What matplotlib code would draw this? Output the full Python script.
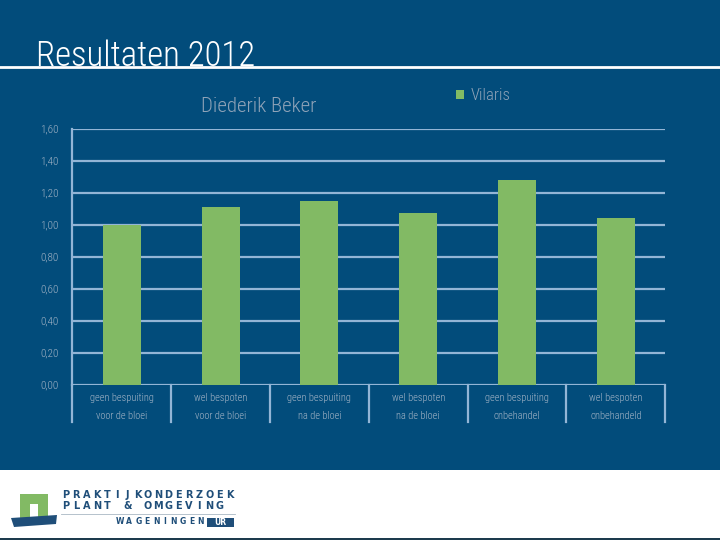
import matplotlib
matplotlib.use("Agg")
import matplotlib.pyplot as plt
from matplotlib import font_manager
from matplotlib.patches import Rectangle, Polygon
import numpy as np

categories = [
    "geen bespuiting\nvoor de bloei",
    "wel bespoten\nvoor de bloei",
    "geen bespuiting\nna de bloei",
    "wel bespoten\nna de bloei",
    "geen bespuiting\nonbehandel",
    "wel bespoten\nonbehandeld",
]
values = [1.00, 1.11, 1.15, 1.07, 1.28, 1.04]
series_name = "Vilaris"
yticks = [0.0, 0.2, 0.4, 0.6, 0.8, 1.0, 1.2, 1.4, 1.6]
ytick_labels = ["0,00", "0,20", "0,40", "0,60", "0,80", "1,00", "1,20", "1,40", "1,60"]

names = {f.name for f in font_manager.fontManager.ttflist}
FONT = "DejaVu Sans"
for cand in ["Liberation Sans Narrow", "Roboto Condensed", "Open Sans Condensed", "DejaVu Sans"]:
    if cand in names:
        FONT = cand
        break
plt.rcParams["font.family"] = [FONT, "DejaVu Sans"]
plt.rcParams["font.weight"] = "light"

BG = "#024C7B"
GREEN = "#82BA64"
GRID = "#93B5D6"
TXT = "#A3B4C6"
LOGO = "#1F4E79"

fig = plt.figure(figsize=(7.2, 5.4), dpi=100)
fig.patch.set_facecolor("white")

fig.add_artist(Rectangle((0, 70 / 540), 1, 470 / 540, transform=fig.transFigure,
                         facecolor=BG, edgecolor="none", zorder=0))
fig.add_artist(Rectangle((0, 0), 1, 2 / 540, transform=fig.transFigure,
                         facecolor="#1d3b4e", edgecolor="none", zorder=0))
fig.text(36 / 720, 1 - 66 / 540, "Resultaten 2012", color="white", fontsize=25,
         ha="left", va="baseline", fontweight="light")
fig.add_artist(plt.Line2D([0, 1], [1 - 66.5 / 540] * 2, transform=fig.transFigure,
                          color="white", lw=2))

ax = fig.add_axes([72.3 / 720, 1 - 384.7 / 540, 593 / 720, 256 / 540])
ax.set_facecolor("none")
x = np.arange(len(categories))
ax.bar(x, values, width=0.385, color=GREEN, zorder=3, label=series_name)
ax.set_xlim(-0.5, len(categories) - 0.5)
ax.set_ylim(0, 1.6)
ax.set_yticks(yticks)
ax.set_yticklabels(ytick_labels, fontweight="light")
ax.tick_params(axis="y", length=0, colors=TXT, labelsize=8, pad=10)
ax.set_xticks([])
for s in ["top", "right", "bottom"]:
    ax.spines[s].set_visible(False)
ax.spines["left"].set_color(GRID)
ax.spines["left"].set_linewidth(1.6)
for yv in yticks:
    ax.axhline(yv, color=GRID, lw=1.6, zorder=1)

for b in np.arange(len(categories) + 1) - 0.5:
    ax.plot([b, b], [0, -37 / 160], color=GRID, lw=1.6, clip_on=False, zorder=1)
for xi, lab in zip(x, categories):
    l1, l2 = lab.split("\n")
    ax.text(xi, -13 / 160, l1, color=TXT, fontsize=7.5, ha="center", va="center",
            fontweight="light")
    ax.text(xi, -31 / 160, l2, color=TXT, fontsize=7.5, ha="center", va="center",
            fontweight="light")

fig.text(259 / 720, 1 - 106 / 540, "Diederik Beker", color="#8FA3B8", fontsize=15,
         ha="center", va="center", fontweight="light")
leg = ax.legend(loc="center left", bbox_to_anchor=(441 / 720, 1 - 96 / 540),
                bbox_transform=fig.transFigure, frameon=False,
                prop={"size": 12, "weight": "light"},
                handlelength=0.5, handleheight=0.5, handletextpad=0.4, labelcolor="#8FA3B8")

# logo
fig.add_artist(Rectangle((20 / 720, 1 - 518 / 540), 28 / 720, 24 / 540,
                         transform=fig.transFigure, facecolor=GREEN, edgecolor="none"))
fig.add_artist(Rectangle((30 / 720, 1 - 518 / 540), 8 / 720, 14 / 540,
                         transform=fig.transFigure, facecolor="white", edgecolor="none"))
fig.add_artist(Polygon([(11 / 720, 1 - 518 / 540), (57 / 720, 1 - 515 / 540),
                        (56 / 720, 1 - 524 / 540), (14 / 720, 1 - 527 / 540)],
                       closed=True, transform=fig.transFigure, facecolor=LOGO,
                       edgecolor="none"))


def spaced(text, x0, x1, y, size):
    n = len(text)
    step = (x1 - x0) / n
    for i, ch in enumerate(text):
        fig.text((x0 + step * (i + 0.5)) / 720, 1 - y / 540, ch, color=LOGO, fontsize=size,
                 fontweight="bold", ha="center", va="center", family="DejaVu Sans")


spaced("PRAKTIJKONDERZOEK", 61, 235, 495, 7)
spaced("PLANT & OMGEVING", 61, 225, 506, 7)
fig.add_artist(plt.Line2D([61 / 720, 235 / 720], [1 - 514 / 540] * 2,
                          transform=fig.transFigure, color="#AAB8C4", lw=0.6))
spaced("WAGENINGEN", 116, 205, 522, 5.5)
fig.add_artist(Rectangle((207 / 720, 1 - 527 / 540), 27 / 720, 9 / 540,
                         transform=fig.transFigure, facecolor=LOGO, edgecolor="none"))
fig.text(220.5 / 720, 1 - 522.5 / 540, "UR", color="white", fontsize=5.5,
         fontweight="bold", ha="center", va="center", family="DejaVu Sans")

fig.savefig("out.png", dpi=100, facecolor=fig.get_facecolor())
